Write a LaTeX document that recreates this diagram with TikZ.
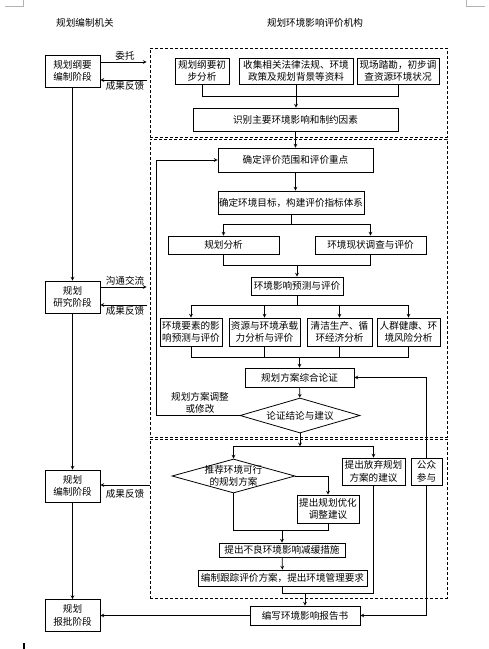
\documentclass[tikz,border=0pt]{standalone}
\usepackage{fontspec}
\newfontfamily\cjk{Noto Sans CJK SC}
\usetikzlibrary{arrows,shapes.geometric}

\tikzset{
  box/.style={draw, line width=0.8pt, inner sep=1pt, align=center},
  frame/.style={draw, dash pattern=on 3pt off 2pt, line width=0.7pt, inner sep=0pt},
  dia/.style={draw, diamond, line width=0.8pt, inner sep=0pt, align=center},
  conn/.style={->, line width=0.7pt},
  lbl/.style={inner sep=1pt}
}

\begin{document}
\begin{tikzpicture}[x=1pt, y=-1pt, >=stealth, font=\cjk\fontsize{9.6}{12.5}\selectfont]
\useasboundingbox (0,0) rectangle (489,649);
% page marks
\draw[gray!60, line width=0.4pt] (5,6) -- (23,6) -- (23,0);
\draw[gray!60, line width=0.4pt] (466,0) -- (466,6) -- (485,6);
\draw[line width=1.5pt] (24,643) -- (24,649);

\node (hl) at (85,23) {规划编制机关};
\node (hr) at (315,23) {规划环境影响评价机构};

% dashed frames
\node[frame, minimum width=297, minimum height=89] (f1) at (298.5,92.5) {};
\node[frame, minimum width=297, minimum height=298] (f2) at (298.5,288) {};
\node[frame, minimum width=297, minimum height=159] (f3) at (298.5,518.5) {};

% planning stages
\foreach \n/\y/\t in {s1/71/{规划纲要\\编制阶段}, s2/297/{规划\\研究阶段}, s3/486/{规划\\编制阶段}, s4/615.5/{规划\\报批阶段}}
    \node[box, minimum width=55, minimum height=32] (\n) at (72.5,\y) {\t};
\draw[conn] (s1) -- (s2);
\draw[conn] (s2) -- (s3);
\draw[conn] (s3) -- (s4);

\draw[conn, shorten >=3pt] ([yshift=9pt]s1.east) -- ([yshift=9pt]s1.east -| f1.west) node[midway, above, lbl] {委托};
\draw[conn, shorten <=3pt] ([yshift=-9pt]s1.east -| f1.west) -- ([yshift=-9pt]s1.east) node[midway, below, lbl] {成果反馈};
\draw[conn, shorten >=3pt] ([yshift=10pt]s2.east) -- ([yshift=10pt]s2.east -| f2.west) node[midway, above, lbl] {沟通交流};
\draw[conn, shorten <=3pt] ([yshift=-8pt]s2.east -| f2.west) -- ([yshift=-8pt]s2.east) node[midway, below, lbl] {成果反馈};
\draw[conn] ([yshift=1pt]s3.east -| f3.west) -- ([yshift=1pt]s3.east) node[midway, below=3pt, lbl] {成果反馈};

% first frame
\node[box, minimum width=54, minimum height=26] (a1) at (202,71) {规划纲要初\\步分析};
\node[box, minimum width=114, minimum height=26] (a2) at (296,71) {收集相关法律法规、环境\\政策及规划背景等资料};
\node[box, minimum width=82, minimum height=26] (a3) at (398,71) {现场踏勘，初步调\\查资源环境状况};
\node[box, minimum width=205, minimum height=23] (b) at (295.5,119.5) {识别主要环境影响和制约因素};
\draw[line width=0.7pt] (a1.south) -- ++(0,12) -| (a3.south);
\draw[conn] (a2.south) -- (a2.south |- b.north);

% second frame
\node[box, minimum width=155, minimum height=24] (c) at (295.5,160) {确定评价范围和评价重点};
\node[box, minimum width=146, minimum height=23] (d) at (291,202.5) {确定环境目标，构建评价指标体系};
\node[box, minimum width=111, minimum height=18] (e1) at (223.5,245) {规划分析};
\node[box, minimum width=111, minimum height=18] (e2) at (370.5,245) {环境现状调查与评价};
\node[box, minimum width=92, minimum height=18] (f) at (297,286) {环境影响预测与评价};
\foreach \n/\x/\w/\t in {g1/191/62/{环境要素的影\\响预测与评价}, g2/264.5/71/{资源与环境承载\\力分析与评价}, g3/339.5/65/{清洁生产、循\\环经济分析}, g4/408.5/63/{人群健康、环\\境风险分析}}
    \node[box, minimum width=\w, minimum height=28] (\n) at (\x,332) {\t};
\node[box, minimum width=109, minimum height=19] (h) at (299.5,377.5) {规划方案综合论证};
\node[dia, aspect=3.4, minimum width=120, minimum height=35] (k) at (300,415.5) {论证结论与建议};

\draw[conn] (b) -- (c);
\draw[conn] (c.south) -- (c.south |- d.north);
\draw[line width=0.7pt] (d.south) -- ++(0,10) coordinate (dj);
\draw[conn] (dj) -| (e1.north);
\draw[conn] (dj) -| (e2.north);
\draw[line width=0.7pt] (e1.south) -- ++(0,11) coordinate (ej) -| (e2.south);
\draw[conn] (ej -| f.north) -- (f.north);
\draw[line width=0.7pt] (f.south) -- ++(0,10) coordinate (fj);
\draw[line width=0.7pt] (fj -| g1.north) -- (fj -| g4.north);
\foreach \n in {g1,g2,g3,g4}
    \draw[conn] (fj -| \n.north) -- (\n.north);
\draw[line width=0.7pt] (g1.south) -- ++(0,11) coordinate (gj) -| (g4.south);
\draw[line width=0.7pt] (g2.south) -- (g2.south |- gj);
\draw[line width=0.7pt] (g3.south) -- (g3.south |- gj);
\draw[conn] (gj -| h.north) -- (h.north);
\draw[conn] (h) -- (k);
\draw[conn] (k.west) -- ++(-83,0) |- (c.west);
\node[align=center] (adj) at (200,403) {规划方案调整\\或修改};

% third frame
\node[dia, aspect=3.6, inner sep=-6pt, minimum width=123, minimum height=34] (m) at (233.5,476) {推荐环境可行\\的规划方案};
\node[box, minimum width=63, minimum height=27] (n) at (373.5,471.5) {提出放弃规划\\方案的建议};
\node[box, minimum width=31, minimum height=27] (p) at (426.5,471.5) {公众\\参与};
\node[box, minimum width=62, minimum height=28] (q) at (328,509) {提出规划优化\\调整建议};
\node[box, minimum width=126, minimum height=14] (r) at (282,550) {提出不良环境影响减缓措施};
\node[box, minimum width=169, minimum height=16] (t) at (282.5,578) {编制跟踪评价方案，提出环境管理要求};
\node[box, minimum width=110, minimum height=19] (u) at (305,615.5) {编写环境影响报告书};

\draw[conn] (k.south) -- ++(0,13) coordinate (kj);
\draw[conn] (kj) -| (m.north);
\draw[conn] (kj) -| (n.north);
\draw[conn] (m.east) -| (q.north);
\draw[line width=0.7pt] (m.south) -- ++(0,37) coordinate (mj) -| (q.south);
\draw[conn] (mj -| r.north) -- (r.north);
\draw[conn] (r) -- (t);
\draw[line width=0.7pt] (t.south) -- ++(0,7) coordinate (tj) -| (n.south);
\draw[conn] (tj -| u.north) -- (u.north);
\draw[conn] (p.north) |- (h.east);
\draw[conn] (p.south) |- (u.east);
\draw[conn] (u.west) -- (s4.east);
\end{tikzpicture}
\end{document}
